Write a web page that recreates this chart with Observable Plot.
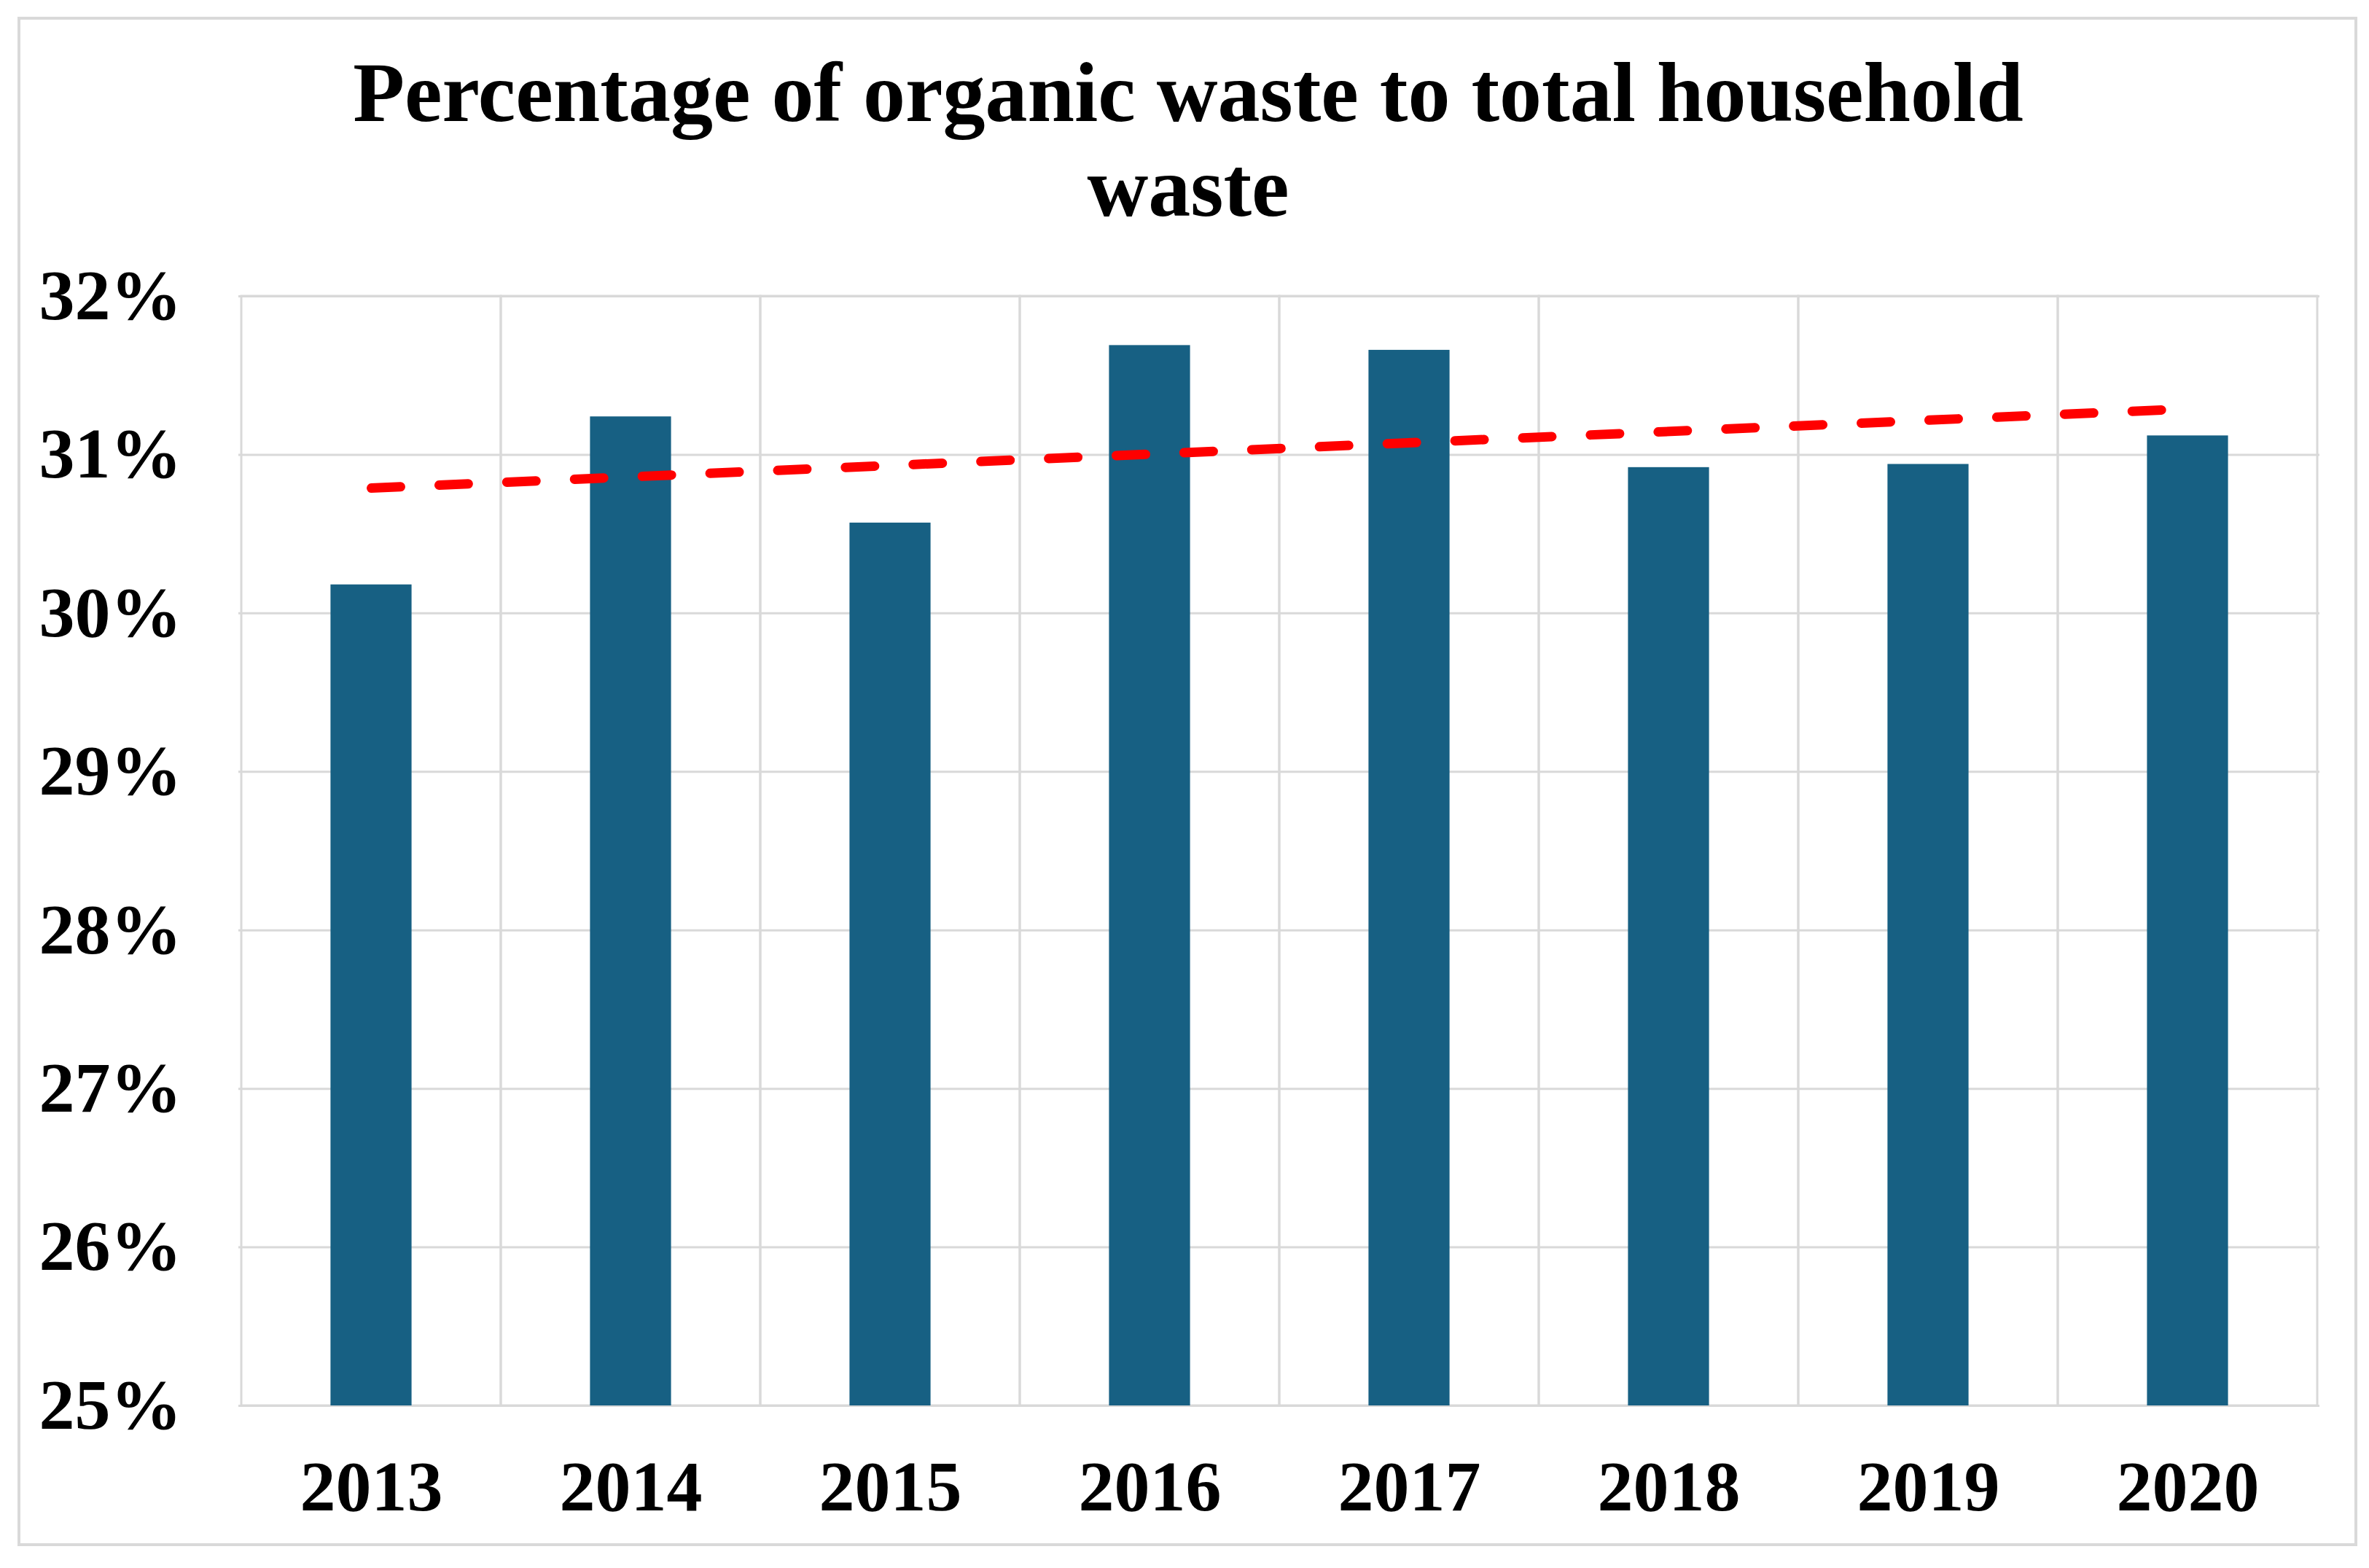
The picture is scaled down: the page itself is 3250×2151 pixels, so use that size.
<!DOCTYPE html>
<html>
<head>
<meta charset="utf-8">
<script src="https://cdn.jsdelivr.net/npm/d3@7"></script>
<script src="https://cdn.jsdelivr.net/npm/@observablehq/plot@0.6"></script>
<style>
  body { margin: 0; background: #fff; }
  #wrap { position: relative; width: 3250px; height: 2151px; background: #fff; overflow: hidden; }
  #frame { position: absolute; left: 24px; top: 23px; width: 3210px; height: 2098px; border: 4px solid #d9d9d9; box-sizing: border-box; }
  #chart { position: absolute; left: 0; top: 0; }
  #title { position: absolute; left: 0; top: 62px; width: 3260px; text-align: center;
           font-family: 'Liberation Serif', 'Times New Roman', serif; font-weight: bold;
           font-size: 116px; line-height: 130px; color: #000; }
</style>
</head>
<body>
<div id="wrap">
  <div id="frame"></div>
  <div id="chart"></div>
  <div id="title">Percentage of organic waste to total household<br>waste</div>
</div>
<script>
const years = ["2013", "2014", "2015", "2016", "2017", "2018", "2019", "2020"];
const organicShare = [30.18, 31.24, 30.57, 31.69, 31.66, 30.92, 30.94, 31.12];
const trendYears = ["2013", "2020"];
const trendValues = [30.79, 31.29];
const yTicks = [25, 26, 27, 28, 29, 30, 31, 32];

const bars = years.map((year, i) => ({year, value: organicShare[i]}));
const trend = trendYears.map((year, i) => ({year, value: trendValues[i]}));

const W = 3250, H = 2151;
const mL = 327, mR = 68, mT = 406, mB = 223;
const band = (W - mL - mR) / years.length;
const barInset = band * (1 - 0.314) / 2;
const grid = "#d9d9d9";

const chart = Plot.plot({
  width: W,
  height: H,
  marginLeft: mL,
  marginRight: mR,
  marginTop: mT,
  marginBottom: mB,
  style: {
    fontFamily: "'Liberation Serif', 'Times New Roman', serif",
    fontWeight: "bold",
    fontSize: "98px",
    color: "#000",
    background: "transparent"
  },
  x: {domain: years, padding: 0, label: null},
  y: {domain: [25, 32], label: null},
  marks: [
    Plot.barY(years, {x: d => d, y1: 25, y2: 32, fill: "none", stroke: grid, strokeWidth: 3, inset: 0}),
    Plot.gridY(yTicks, {stroke: grid, strokeWidth: 3, strokeOpacity: 1}),
    Plot.barY(bars, {x: "year", y1: 25, y2: "value", fill: "#176083", insetLeft: barInset, insetRight: barInset}),
    Plot.lineY(trend, {x: "year", y: "value", stroke: "#ff0000", strokeWidth: 13, strokeDasharray: "40,53", strokeLinecap: "round"}),
    Plot.axisX({tickSize: 0, tickPadding: 74, label: null, fontSize: 98, fontWeight: "bold"}),
    Plot.axisY(yTicks, {tickSize: 0, tickPadding: 78, label: null, tickFormat: d => d + "%", fontSize: 98, fontWeight: "bold"})
  ]
});
document.getElementById("chart").appendChild(chart);
</script>
</body>
</html>
